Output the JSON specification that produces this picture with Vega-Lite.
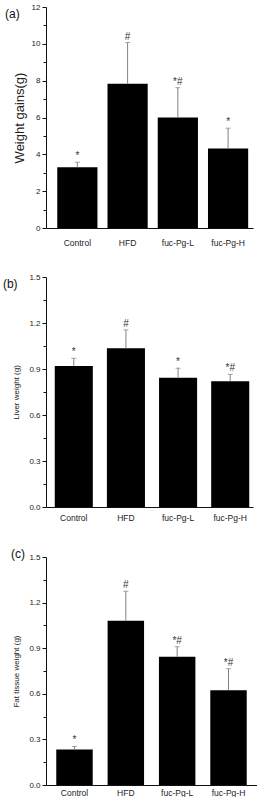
{
  "$schema": "https://vega.github.io/schema/vega-lite/v6.json",
  "background": "white",
  "padding": {"left": 2, "top": 3, "right": 0, "bottom": 0},
  "spacing": 26,
  "columns": 1,
  "align": "none",
  "config": {
    "view": {"stroke": null},
    "font": "Liberation Sans",
    "axis": {"grid": false, "domainColor": "#111", "tickColor": "#111", "labelColor": "#222", "titleColor": "#222", "titleFontWeight": "normal", "labelFontSize": 8, "labelOverlap": false},
    "title": {"fontWeight": "normal", "fontSize": 12, "color": "#111", "anchor": "start", "frame": "bounds"}
  },
  "concat": [
    {
      "width": 207,
      "height": 221,
      "title": {"text": "(a)", "dx": -8, "offset": -18},
      "data": {"values": [
        {"group": "Control", "value": 3.3, "err": 3.57, "label": "*"},
        {"group": "HFD", "value": 7.83, "err": 10.07, "label": "#"},
        {"group": "fuc-Pg-L", "value": 6.0, "err": 7.62, "label": "*#"},
        {"group": "fuc-Pg-H", "value": 4.31, "err": 5.42, "label": "*"}
      ]},
      "encoding": {
        "x": {"field": "group", "type": "nominal", "sort": null, "title": null,
          "scale": {"paddingInner": 0.2, "paddingOuter": 0.16, "align": 0.7},
          "axis": {"labelAngle": 0, "ticks": false, "labelPadding": 10, "labelFontSize": 8.5}}
      },
      "resolve": {"axis": {"y": "independent"}},
      "layer": [
        {"mark": {"type": "bar", "color": "black"},
         "encoding": {"y": {"field": "value", "type": "quantitative", "title": "Weight  gains(g)",
           "scale": {"domain": [0, 12], "nice": false},
           "axis": {"values": [0,2,4,6,8,10,12], "ticks": true, "tickWidth": 1, "tickSize": 4, "labelOverlap": false,
             "labelPadding": 2, "titleFontSize": 13, "titlePadding": 5}}}},
        {"mark": {"type": "rule", "color": "#808080"},
         "encoding": {"y": {"field": "value", "type": "quantitative", "title": null,
           "axis": {"orient": "left", "values": [1,3,5,7,9,11], "labels": false, "domain": false, "ticks": true, "tickSize": 3, "tickWidth": 1}},
           "y2": {"field": "err"}}},
        {"mark": {"type": "tick", "color": "#808080", "size": 5, "thickness": 1, "orient": "horizontal"},
         "encoding": {"y": {"field": "err", "type": "quantitative", "axis": null}}},
        {"mark": {"type": "text", "baseline": "bottom", "dy": -1, "fontSize": 10, "color": "#333"},
         "encoding": {"y": {"field": "err", "type": "quantitative", "axis": null}, "text": {"field": "label"}}}
      ]
    },
    {
      "width": 207,
      "height": 230,
      "title": {"text": "(b)", "dx": -10, "offset": -18},
      "data": {"values": [
        {"group": "Control", "value": 0.92, "err": 0.97, "label": "*"},
        {"group": "HFD", "value": 1.035, "err": 1.155, "label": "#"},
        {"group": "fuc-Pg-L", "value": 0.843, "err": 0.905, "label": "*"},
        {"group": "fuc-Pg-H", "value": 0.82, "err": 0.865, "label": "*#"}
      ]},
      "encoding": {
        "x": {"field": "group", "type": "nominal", "sort": null, "title": null,
          "scale": {"paddingInner": 0.27, "paddingOuter": 0.12, "align": 0.7},
          "axis": {"labelAngle": 0, "ticks": false, "labelPadding": 6, "labelFontSize": 8.5}}
      },
      "resolve": {"axis": {"y": "independent"}},
      "layer": [
        {"mark": {"type": "bar", "color": "black"},
         "encoding": {"y": {"field": "value", "type": "quantitative", "title": "Liver weight (g)",
           "scale": {"domain": [0, 1.5], "nice": false},
           "axis": {"values": [0,0.3,0.6,0.9,1.2,1.5], "format": ".1f", "ticks": true, "tickWidth": 1, "tickSize": 4, "labelOverlap": false,
             "labelPadding": 2, "titleFontSize": 8, "titlePadding": 8}}}},
        {"mark": {"type": "rule", "color": "#808080"},
         "encoding": {"y": {"field": "value", "type": "quantitative", "title": null,
           "axis": {"orient": "left", "values": [0.15,0.45,0.75,1.05,1.35], "labels": false, "domain": false, "ticks": true, "tickSize": 3, "tickWidth": 1}},
           "y2": {"field": "err"}}},
        {"mark": {"type": "tick", "color": "#808080", "size": 5, "thickness": 1, "orient": "horizontal"},
         "encoding": {"y": {"field": "err", "type": "quantitative", "axis": null}}},
        {"mark": {"type": "text", "baseline": "bottom", "dy": -1, "fontSize": 10, "color": "#333"},
         "encoding": {"y": {"field": "err", "type": "quantitative", "axis": null}, "text": {"field": "label"}}}
      ]
    },
    {
      "width": 211,
      "height": 228,
      "title": {"text": "(c)", "dx": -2, "offset": -8},
      "data": {"values": [
        {"group": "Control", "value": 0.234, "err": 0.254, "label": "*"},
        {"group": "HFD", "value": 1.08, "err": 1.275, "label": "#"},
        {"group": "fuc-Pg-L", "value": 0.843, "err": 0.91, "label": "*#"},
        {"group": "fuc-Pg-H", "value": 0.624, "err": 0.765, "label": "*#"}
      ]},
      "encoding": {
        "x": {"field": "group", "type": "nominal", "sort": null, "title": null,
          "scale": {"paddingInner": 0.29, "paddingOuter": 0.2},
          "axis": {"labelAngle": 0, "ticks": false, "labelPadding": 3, "labelFontSize": 8.5}}
      },
      "resolve": {"axis": {"y": "independent"}},
      "layer": [
        {"mark": {"type": "bar", "color": "black"},
         "encoding": {"y": {"field": "value", "type": "quantitative", "title": "Fat tissue weight (g)",
           "scale": {"domain": [0, 1.5], "nice": false},
           "axis": {"values": [0,0.3,0.6,0.9,1.2,1.5], "format": ".1f", "ticks": true, "tickWidth": 1, "tickSize": 4, "labelOverlap": false,
             "labelPadding": 2, "titleFontSize": 8, "titlePadding": 8}}}},
        {"mark": {"type": "rule", "color": "#808080"},
         "encoding": {"y": {"field": "value", "type": "quantitative", "title": null,
           "axis": {"orient": "left", "values": [0.15,0.45,0.75,1.05,1.35], "labels": false, "domain": false, "ticks": true, "tickSize": 3, "tickWidth": 1}},
           "y2": {"field": "err"}}},
        {"mark": {"type": "tick", "color": "#808080", "size": 5, "thickness": 1, "orient": "horizontal"},
         "encoding": {"y": {"field": "err", "type": "quantitative", "axis": null}}},
        {"mark": {"type": "text", "baseline": "bottom", "dy": -1, "fontSize": 10, "color": "#333"},
         "encoding": {"y": {"field": "err", "type": "quantitative", "axis": null}, "text": {"field": "label"}}}
      ]
    }
  ]
}
